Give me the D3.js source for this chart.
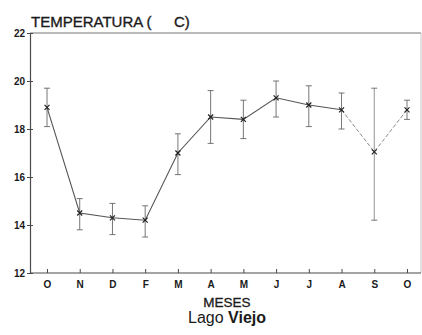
<!DOCTYPE html>
<html>
<head>
<meta charset="utf-8">
<script src="https://cdn.jsdelivr.net/npm/d3@7"></script>
<style>
  html, body { margin: 0; padding: 0; background: #fff; }
  svg { display: block; }
  text { font-family: "Liberation Sans", Arial, sans-serif; fill: #1a1a1a; }
</style>
</head>
<body>
<svg id="chart" width="422" height="335"></svg>
<script>
// Monthly mean water temperature with min/max range
const months = ["O", "N", "D", "F", "M", "A", "M", "J", "J", "A", "S", "O"];
const meanTemp = [18.9, 14.5, 14.3, 14.2, 17.0, 18.5, 18.4, 19.3, 19.0, 18.8, 17.05, 18.8];
const upperTemp = [19.7, 15.1, 14.9, 14.8, 17.8, 19.6, 19.2, 20.0, 19.8, 19.5, 19.7, 19.2];
const lowerTemp = [18.1, 13.8, 13.6, 13.5, 16.1, 17.4, 17.6, 18.5, 18.1, 18.0, 14.2, 18.4];
const yTicks = [12, 14, 16, 18, 20, 22];

const svg = d3.select("#chart");
const plotLeft = 30, plotRight = 421, plotTop = 33, plotBottom = 273;
const ink = "#4a4a4a";

const x = d3.scaleLinear().domain([0, months.length - 1]).range([47, 407]);
const y = d3.scaleLinear().domain([12, 22]).range([plotBottom, plotTop]);

// frame
svg.append("line").attr("x1", plotLeft).attr("x2", plotRight).attr("y1", plotTop).attr("y2", plotTop)
  .attr("stroke", "#777").attr("stroke-width", 1.2);
svg.append("line").attr("x1", plotRight).attr("x2", plotRight).attr("y1", plotTop).attr("y2", plotBottom)
  .attr("stroke", "#c4c4c4").attr("stroke-width", 1);

// x axis
const xAxis = svg.append("g").attr("transform", `translate(0,${plotBottom})`)
  .call(d3.axisBottom(x).tickValues(d3.range(months.length))
    .tickFormat(i => months[i]).tickSizeInner(-4).tickSizeOuter(0).tickPadding(8));
xAxis.select(".domain").attr("d", `M${plotLeft},0H${plotRight}`).attr("stroke", ink).attr("stroke-width", 1.2);
xAxis.selectAll(".tick line").attr("stroke", ink);
xAxis.selectAll("text").attr("font-size", 10).attr("font-weight", "bold").attr("fill", "#1a1a1a");

// y axis
const yAxis = svg.append("g").attr("transform", `translate(${plotLeft},0)`)
  .call(d3.axisLeft(y).tickValues(yTicks).tickSizeInner(3).tickSizeOuter(0).tickPadding(2));
yAxis.select(".domain").attr("stroke", ink).attr("stroke-width", 1.2);
yAxis.selectAll(".tick line").attr("stroke", ink).attr("x2", 3).attr("x1", -3);
yAxis.selectAll("text").attr("font-size", 10).attr("font-weight", "bold").attr("fill", "#1a1a1a");

// error bars
const idx = d3.range(months.length);
const bars = svg.append("g").attr("stroke", "#666").attr("stroke-width", 0.9);
bars.selectAll("line.v").data(idx).join("line").attr("class", "v")
  .attr("x1", i => x(i)).attr("x2", i => x(i))
  .attr("y1", i => y(upperTemp[i])).attr("y2", i => y(lowerTemp[i]))
  .attr("stroke", i => i === 10 ? "#888" : null);
bars.selectAll("line.t").data(idx).join("line").attr("class", "t")
  .attr("x1", i => x(i) - 3).attr("x2", i => x(i) + 3)
  .attr("y1", i => y(upperTemp[i])).attr("y2", i => y(upperTemp[i]));
bars.selectAll("line.b").data(idx).join("line").attr("class", "b")
  .attr("x1", i => x(i) - 3).attr("x2", i => x(i) + 3)
  .attr("y1", i => y(lowerTemp[i])).attr("y2", i => y(lowerTemp[i]));

// mean line: solid through August, fainter dashed segments into and out of September
const line = d3.line().x(i => x(i)).y(i => y(meanTemp[i]));
svg.append("path").datum(d3.range(0, 10))
  .attr("fill", "none").attr("stroke", "#555").attr("stroke-width", 1.1)
  .attr("d", line);
svg.append("path").datum(d3.range(9, 12))
  .attr("fill", "none").attr("stroke", "#8a8a8a").attr("stroke-width", 1)
  .attr("stroke-dasharray", "4,2")
  .attr("d", line);

// x markers
svg.append("g").selectAll("path").data(idx).join("path")
  .attr("transform", i => `translate(${x(i)},${y(meanTemp[i])})`)
  .attr("d", "M-2.5,-2.5L2.5,2.5M-2.5,2.5L2.5,-2.5")
  .attr("stroke", "#222").attr("stroke-width", 1.2);

// titles
const title = svg.append("text").attr("y", 27).attr("font-size", 15)
  .attr("stroke", "#1a1a1a").attr("stroke-width", 0.35);
title.append("tspan").attr("x", 31).text("TEMPERATURA (");
title.append("tspan").attr("x", 174).text("C)");
svg.append("text").attr("x", 227).attr("y", 307).attr("text-anchor", "middle")
  .attr("font-size", 13.5).attr("stroke", "#1a1a1a").attr("stroke-width", 0.3).text("MESES");
const cap = svg.append("text").attr("x", 227).attr("y", 323).attr("text-anchor", "middle")
  .attr("font-size", 16);
cap.append("tspan").text("Lago ");
cap.append("tspan").attr("font-weight", "bold").text("Viejo");
</script>
</body>
</html>
